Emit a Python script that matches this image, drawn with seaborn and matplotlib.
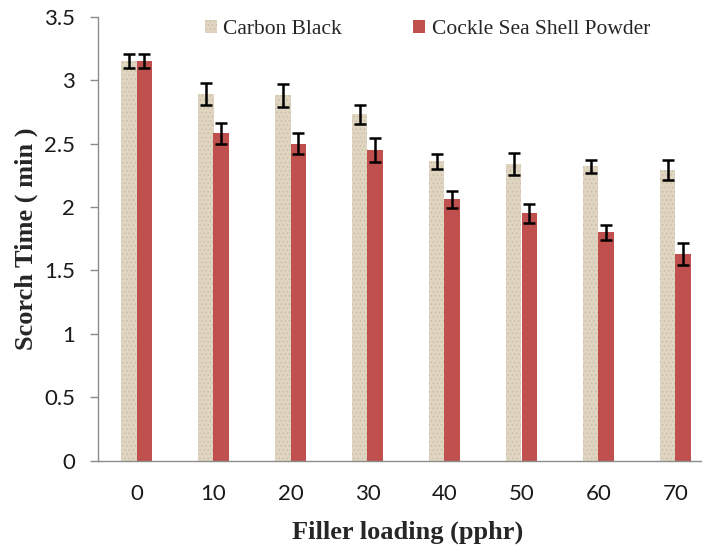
import matplotlib
matplotlib.use("Agg")
import matplotlib.pyplot as plt
from matplotlib.patches import Patch
import seaborn as sns
import pandas as pd

# Filler loading levels (pphr) and scorch times (min) with standard deviations
loading = ["0", "10", "20", "30", "40", "50", "60", "70"]
carbon_black = [3.15, 2.89, 2.88, 2.73, 2.36, 2.34, 2.32, 2.29]
carbon_black_err = [0.057, 0.085, 0.088, 0.072, 0.059, 0.089, 0.049, 0.078]
cockle_shell = [3.15, 2.58, 2.50, 2.45, 2.06, 1.95, 1.80, 1.63]
cockle_shell_err = [0.057, 0.083, 0.083, 0.092, 0.067, 0.073, 0.060, 0.088]
series_names = ["Carbon Black", "Cockle Sea Shell Powder"]
yticks = [0, 0.5, 1, 1.5, 2, 2.5, 3, 3.5]

sns.set_style("white")
plt.rcParams["hatch.linewidth"] = 0.6

df = pd.DataFrame({
    "loading": loading * 2,
    "time": carbon_black + cockle_shell,
    "filler": [series_names[0]] * len(loading) + [series_names[1]] * len(loading),
})

beige = "#DFD5C1"
speckle = "#CBBEA4"
red = "#C0504D"

fig = plt.figure(figsize=(7.02, 5.5), dpi=100)
ax = fig.add_axes([98 / 702, 0.1624, (702 - 98) / 702, 0.8072])

sns.barplot(data=df, x="loading", y="time", hue="filler", order=loading,
            hue_order=series_names, palette=[beige, red], width=0.39,
            errorbar=None, saturation=1, ax=ax, legend=False, linewidth=0)

# paper-like texture on the carbon black bars
for bar in ax.containers[0]:
    bar.set_hatch("....")
    bar.set_edgecolor(speckle)
    bar.set_linewidth(0)

for cont, vals, errs in zip(ax.containers, [carbon_black, cockle_shell],
                            [carbon_black_err, cockle_shell_err]):
    xs = [b.get_x() + b.get_width() / 2 for b in cont]
    ax.errorbar(xs, vals, yerr=errs, fmt="none", ecolor="black",
                elinewidth=1.8, capsize=4.5, capthick=1.8, zorder=5)

ax.set_ylim(0, 3.5)
ax.set_xlim(-0.5, -0.5 + (702 - 98) / 77)
ax.set_yticks(yticks)
ax.set_yticklabels([f"{t:g}" for t in yticks])

for side in ["top", "right"]:
    ax.spines[side].set_visible(False)
for side in ["left", "bottom"]:
    ax.spines[side].set_color("#8C8C8C")
    ax.spines[side].set_linewidth(1.0)

ax.tick_params(axis="y", direction="out", length=5.5, width=1.0, color="#8C8C8C",
               pad=11, labelsize=16, left=True)
ax.tick_params(axis="x", length=0, pad=17, labelsize=16)
for lab in ax.get_xticklabels() + ax.get_yticklabels():
    lab.set_fontfamily("Lato")
    lab.set_color("#1a1a1a")

ax.set_ylabel("Scorch Time ( min )", fontfamily="Liberation Serif",
              fontweight="bold", fontsize=19, va="center")
ax.yaxis.set_label_coords(-0.119, 0.5)
ax.set_xlabel("Filler loading (pphr)", fontfamily="Liberation Serif",
              fontweight="bold", fontsize=19, va="center")
ax.xaxis.set_label_coords(0.513, -0.1606)

handles = [Patch(facecolor=beige, edgecolor=speckle, hatch="....", linewidth=0),
           Patch(facecolor=red, linewidth=0)]
fig.legend(handles, series_names, loc="center", bbox_to_anchor=(0.609, 0.947),
           ncol=2, frameon=False, handlelength=0.55, handleheight=0.55,
           handletextpad=0.3, columnspacing=3.3,
           prop={"family": "Liberation Serif", "size": 15.5})

fig.savefig("out.png", dpi=100)
